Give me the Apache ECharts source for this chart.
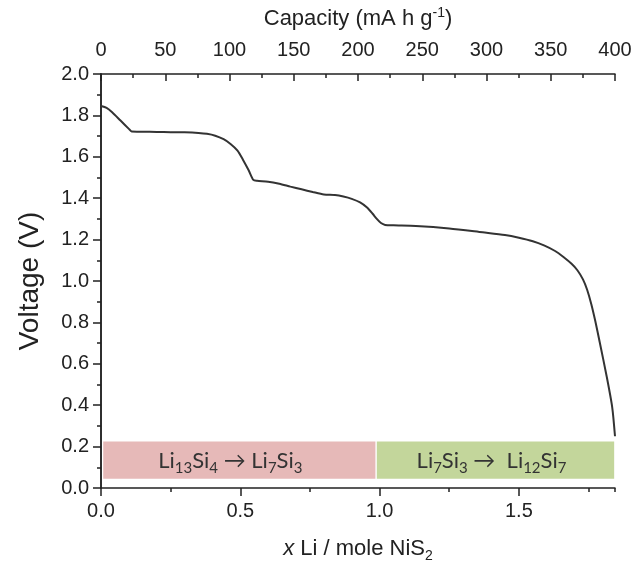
<!DOCTYPE html>
<html>
<head>
<meta charset="utf-8">
<script src="https://cdn.jsdelivr.net/npm/echarts@6/dist/echarts.min.js"></script>
<style>
html,body{margin:0;padding:0;background:#fff;}
#chart{width:631px;height:564px;}
</style>
</head>
<body>
<div id="chart"></div>
<script>
// x Li per mole NiS2
const xLi = [0.0,0.02,0.04,0.07,0.10,0.11,0.15,0.20,0.25,0.30,0.35,0.38,0.41,0.44,0.465,0.49,0.51,0.53,0.547,0.56,0.60,0.64,0.68,0.72,0.76,0.80,0.84,0.87,0.90,0.93,0.955,0.975,0.99,1.005,1.02,1.05,1.13,1.25,1.37,1.45,1.50,1.55,1.59,1.63,1.66,1.69,1.71,1.73,1.745,1.76,1.775,1.79,1.815,1.835,1.845];
// Voltage (V)
const voltage = [1.845,1.836,1.815,1.775,1.735,1.722,1.721,1.720,1.719,1.718,1.715,1.711,1.702,1.685,1.662,1.630,1.585,1.535,1.488,1.484,1.480,1.470,1.456,1.443,1.430,1.418,1.415,1.408,1.397,1.380,1.355,1.325,1.300,1.280,1.271,1.269,1.266,1.254,1.235,1.222,1.209,1.192,1.172,1.145,1.116,1.082,1.052,1.008,0.958,0.888,0.802,0.705,0.540,0.390,0.250];

const xMax = 1.845;
const capMax = 400;
const bottomTicks = [0, 0.5, 1.0, 1.5];
const topTicks = [0, 50, 100, 150, 200, 250, 300, 350, 400];

// phase annotation boxes
const boxLabels = ['Li{s|13}Si{s|4} → Li{s|7}Si{s|3}', 'Li{s|7}Si{s|3} →  Li{s|12}Si{s|7}'];
const boxXStart = [0.008, 0.99];
const boxXEnd = [0.985, 1.842];
const boxVLow = 0.045;
const boxVHigh = 0.225;
const boxColors = ['#e6b9b8', '#c3d69b'];
const boxTextShift = [-9, -4];

const AX = '#222';
const FONT = '"Liberation Sans", Arial, sans-serif';
const BOXFONT = 'Lato, "Open Sans", sans-serif';

const chart = echarts.init(document.getElementById('chart'), null, {renderer: 'canvas'});

const seriesData = xLi.map((x, i) => [x, voltage[i]]);

const markData = boxLabels.map((t, i) => [
  {
    xAxis: boxXStart[i], yAxis: boxVLow,
    itemStyle: {color: boxColors[i], opacity: 1},
    label: {
      show: true, position: 'inside', formatter: t, offset: [boxTextShift[i], 1],
      color: '#333', fontSize: 22, fontFamily: BOXFONT,
      lineHeight: 30,
      rich: {s: {fontSize: 15, verticalAlign: 'bottom', lineHeight: 15, fontFamily: BOXFONT, color: '#333'}}
    }
  },
  {xAxis: boxXEnd[i], yAxis: boxVHigh}
]);

const option = {
  backgroundColor: '#fff',
  animation: false,
  grid: {left: 101, right: 16, top: 74, bottom: 76, containLabel: false, outerBoundsMode: 'none'},
  xAxis: [
    {
      type: 'value', position: 'bottom', min: 0, max: xMax, interval: 0.5,
      axisLine: {show: true, lineStyle: {color: AX, width: 1.5}},
      axisTick: {show: true, inside: false, length: 8, lineStyle: {color: AX, width: 1.5}},
      axisLabel: {show: true, margin: 13, color: '#222', fontSize: 20, fontFamily: FONT, showMaxLabel: false,
        formatter: v => bottomTicks.indexOf(Math.round(v * 100) / 100) >= 0 ? v.toFixed(1) : ''},
      splitLine: {show: false},
      name: '{i|x} Li / mole NiS{s|2}', nameLocation: 'middle', nameGap: 47,
      nameTextStyle: {color: '#222', fontSize: 22, fontFamily: FONT, lineHeight: 28,
        rich: {i: {fontStyle: 'italic', fontSize: 22, fontFamily: FONT, color: '#222'},
               s: {fontSize: 14, verticalAlign: 'bottom', lineHeight: 14, fontFamily: FONT, color: '#222'}}}
    },
    {
      type: 'value', position: 'bottom', min: 0, max: xMax, interval: 0.25,
      axisLine: {show: false},
      axisTick: {show: true, inside: false, length: 4, lineStyle: {color: AX, width: 1.5}},
      axisLabel: {show: false}, splitLine: {show: false}
    },
    {
      type: 'value', position: 'top', min: 0, max: capMax, interval: 50,
      axisLine: {show: true, lineStyle: {color: AX, width: 1.5}},
      axisTick: {show: true, inside: true, length: 7, lineStyle: {color: AX, width: 1.5}},
      minorTick: {show: true, splitNumber: 2, length: 4, lineStyle: {color: AX, width: 1.5}},
      axisLabel: {show: true, margin: 14, color: '#222', fontSize: 20, fontFamily: FONT,
        formatter: v => topTicks.indexOf(v) >= 0 ? String(v) : ''},
      splitLine: {show: false},
      name: 'Capacity (mA h g{s|-1})', nameLocation: 'middle', nameGap: 42,
      nameTextStyle: {color: '#222', fontSize: 22, fontFamily: FONT, lineHeight: 26,
        rich: {s: {fontSize: 14, verticalAlign: 'top', lineHeight: 14, fontFamily: FONT, color: '#222'}}}
    }
  ],
  yAxis: [
    {
      type: 'value', position: 'left', min: 0, max: 2, interval: 0.2,
      axisLine: {show: true, lineStyle: {color: AX, width: 1.5}},
      axisTick: {show: true, inside: false, length: 8, lineStyle: {color: AX, width: 1.5}},
      minorTick: {show: true, splitNumber: 2, length: 4, lineStyle: {color: AX, width: 1.5}},
      axisLabel: {show: true, margin: 12, color: '#222', fontSize: 20, fontFamily: FONT, formatter: v => v.toFixed(1)},
      splitLine: {show: false},
      name: 'Voltage (V)', nameLocation: 'middle', nameGap: 57, nameRotate: 90,
      nameTextStyle: {color: '#222', fontSize: 28, fontFamily: FONT}
    },
    {
      type: 'value', position: 'right', min: 0, max: 2, interval: 0.2,
      axisLine: {show: true, lineStyle: {color: AX, width: 1.5}},
      axisTick: {show: true, inside: true, length: 6, lineStyle: {color: AX, width: 1.5}},
      minorTick: {show: true, splitNumber: 2, length: 4, lineStyle: {color: AX, width: 1.5}},
      axisLabel: {show: false}, splitLine: {show: false}
    }
  ],
  series: [{
    type: 'line', xAxisIndex: 0, yAxisIndex: 0, data: seriesData,
    showSymbol: false, smooth: 0.25,
    lineStyle: {color: '#333', width: 2},
    markArea: {silent: true, data: markData}
  }]
};
chart.setOption(option);
</script>
</body>
</html>
